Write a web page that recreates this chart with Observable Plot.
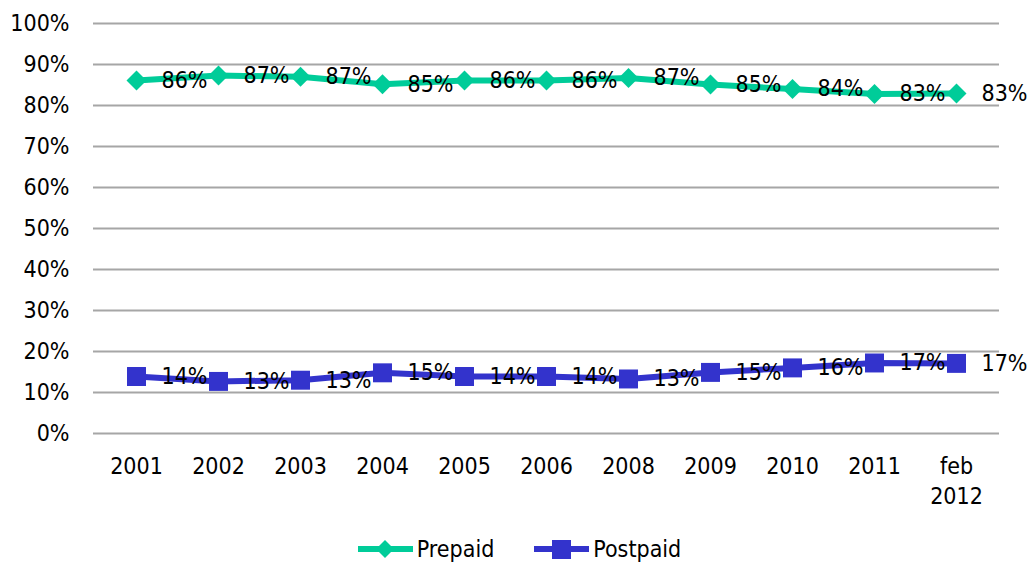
<!DOCTYPE html>
<html>
<head>
<meta charset="utf-8">
<script src="https://cdn.jsdelivr.net/npm/d3@7"></script>
<script src="https://cdn.jsdelivr.net/npm/@observablehq/plot@0.6"></script>
<style>
  body { margin: 0; background: #fff; font-family: "DejaVu Sans Condensed", "Liberation Sans", sans-serif; }
  #legend { display: flex; justify-content: center; align-items: center; height: 40px; margin-top: 9px; font-size: 23px; color: #000; margin-left: 4px; }
  .item { display: flex; align-items: center; margin: 0 20px; }
  .item svg { margin-right: 4px; }
</style>
</head>
<body>
<div id="chart"></div>
<div id="legend"></div>
<script>
const categories = ["2001", "2002", "2003", "2004", "2005", "2006", "2008", "2009", "2010", "2011", "feb\n2012"];
const prepaid = [86.1, 87.3, 87.0, 85.2, 86.1, 86.1, 86.7, 85.1, 84.0, 82.8, 82.9];
const postpaid = [13.9, 12.7, 13.0, 14.8, 13.9, 13.9, 13.3, 14.9, 16.0, 17.2, 17.1];
const prepaidLabels = ["86%", "87%", "87%", "85%", "86%", "86%", "87%", "85%", "84%", "83%", "83%"];
const postpaidLabels = ["14%", "13%", "13%", "15%", "14%", "14%", "13%", "15%", "16%", "17%", "17%"];
const yTicks = [0, 10, 20, 30, 40, 50, 60, 70, 80, 90, 100];
const seriesNames = ["Prepaid", "Postpaid"];
const colors = ["#00CC99", "#3333CC"];

const rows = [];
categories.forEach((c, i) => {
  rows.push({cat: c, series: "Prepaid", value: prepaid[i], label: prepaidLabels[i]});
  rows.push({cat: c, series: "Postpaid", value: postpaid[i], label: postpaidLabels[i]});
});
const pre = rows.filter(d => d.series === "Prepaid");
const post = rows.filter(d => d.series === "Postpaid");

const font = "DejaVu Sans Condensed, Liberation Sans, sans-serif";

const chart = Plot.plot({
  width: 1035,
  height: 520,
  marginLeft: 93,
  marginRight: 36,
  marginTop: 23,
  marginBottom: 87,
  style: {fontFamily: font, fontSize: "23px", color: "#000", background: "#fff"},
  x: {type: "point", domain: categories, padding: 0.5},
  y: {domain: [0, 100]},
  marks: [
    Plot.ruleY(yTicks, {stroke: "#A6A6A6", strokeWidth: 2}),
    Plot.axisY({ticks: yTicks, tickSize: 0, tickPadding: 24, tickFormat: d => d + "%", fontSize: 23, label: null}),
    Plot.axisX({tickSize: 0, tickPadding: 19, fontSize: 23, lineHeight: 1.3, label: null}),
    Plot.line(pre, {x: "cat", y: "value", stroke: colors[0], strokeWidth: 6}),
    Plot.line(post, {x: "cat", y: "value", stroke: colors[1], strokeWidth: 6}),
    Plot.dot(pre, {x: "cat", y: "value", symbol: "diamond2", r: 9, fill: colors[0], stroke: "none"}),
    Plot.dot(post, {x: "cat", y: "value", symbol: "square", r: 10.7, fill: colors[1], stroke: "none"}),
    Plot.text(rows, {x: "cat", y: "value", text: "label", textAnchor: "start", dx: 25, fontSize: 23, fill: "#000"})
  ]
});
document.getElementById("chart").appendChild(chart);

const legend = document.getElementById("legend");
const symbols = [
  '<path d="M27,2 L36,11 L27,20 L18,11 Z" fill="' + colors[0] + '"/>',
  '<rect x="18" y="2" width="19" height="19" fill="' + colors[1] + '"/>'
];
seriesNames.forEach((name, i) => {
  const item = document.createElement("div");
  item.className = "item";
  item.innerHTML = '<svg width="55" height="22"><line x1="0" y1="11" x2="55" y2="11" stroke="' + colors[i] + '" stroke-width="6"/>' + symbols[i] + '</svg><span>' + name + '</span>';
  legend.appendChild(item);
});
</script>
</body>
</html>
